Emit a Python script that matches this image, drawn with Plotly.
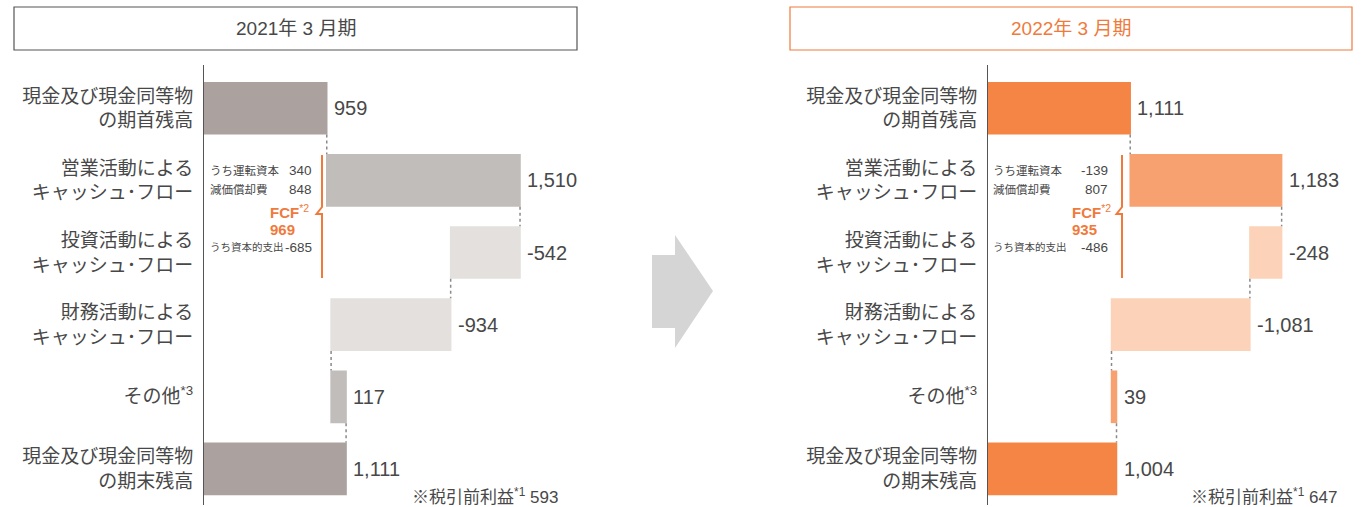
import plotly.graph_objects as go

W, H = 1362, 507

# ---- data ----
categories = [
    "現金及び現金同等物<br>の期首残高",
    "営業活動による<br>キャッシュ･フロー",
    "投資活動による<br>キャッシュ･フロー",
    "財務活動による<br>キャッシュ･フロー",
    "その他<sup>*3</sup>",
    "現金及び現金同等物<br>の期末残高",
]
measures = ["absolute", "relative", "relative", "relative", "relative", "total"]

periods = ["2021年 3 月期", "2022年 3 月期"]
flows_2021 = [959, 1510, -542, -934, 117, 1111]
flows_2022 = [1111, 1183, -248, -1081, 39, 1004]

# breakdown notes: working capital, depreciation, FCF, capex, pre-tax profit
working_capital = [340, -139]
depreciation = [848, 807]
fcf = [969, 935]
capex = [-685, -486]
pretax_profit = [593, 647]

FONT = "Liberation Sans, Noto Sans CJK JP, sans-serif"
TEXT = "#484848"
ORANGE = "#f07a3c"
PX_PER_UNIT = 0.128


def px(x):
    return x / W


def py(y):
    return 1 - y / H


def ann(x, y, text, size, color=TEXT, xanchor="left"):
    return dict(x=px(x), y=py(y), xref="paper", yref="paper", text=text, showarrow=False,
                xanchor=xanchor, yanchor="middle", font=dict(family=FONT, size=size, color=color))


panels = [
    dict(flows=flows_2021, xa="x", ya="y",
         totals="#aba29f", inc="#c1bdba", dec="#e3e0dd", box=(14, 577), box_color="#555555",
         title_color=TEXT, note_left=208, note_right=314, fcf_left=268, bracket=322, foot=560),
    dict(flows=flows_2022, xa="x2", ya="y2",
         totals="#f58545", inc="#f8a170", dec="#fcd3b8", box=(790, 1352), box_color=ORANGE,
         title_color=ORANGE, note_left=991, note_right=1110, fcf_left=1070, bracket=1122, foot=1339),
]

fig = go.Figure()
annotations = []
shapes = []

for i, p in enumerate(panels):
    fig.add_trace(go.Waterfall(
        orientation="h", y=categories, x=p["flows"], measure=measures,
        xaxis=p["xa"], yaxis=p["ya"], width=0.73, textposition="none", showlegend=False,
        totals=dict(marker=dict(color=p["totals"], line=dict(width=0))),
        increasing=dict(marker=dict(color=p["inc"], line=dict(width=0))),
        decreasing=dict(marker=dict(color=p["dec"], line=dict(width=0))),
        connector=dict(line=dict(color="#8a8a8a", width=1.5, dash="dot")),
        hoverinfo="skip",
    ))

    # value labels at the right end of each bar
    running = 0
    for cat, m, v in zip(categories, measures, p["flows"]):
        if m == "absolute" or m == "total":
            start, end = 0, v
            running = v
        else:
            start, end = running, running + v
            running = end
        annotations.append(dict(
            x=max(start, end), y=cat, xref=p["xa"], yref=p["ya"], text=f"{v:,}", showarrow=False,
            xanchor="left", yanchor="middle", xshift=5, font=dict(family=FONT, size=20, color=TEXT)))

    # header box
    x0, x1 = p["box"]
    shapes.append(dict(type="rect", xref="paper", yref="paper", x0=px(x0), x1=px(x1), y0=py(50), y1=py(7),
                       line=dict(color=p["box_color"], width=1.2), fillcolor="white"))
    annotations.append(ann((x0 + x1) / 2, 29, periods[i], 19, p["title_color"], xanchor="center"))

    # operating / investing breakdown notes
    nl, nr = p["note_left"], p["note_right"]
    annotations += [
        ann(nl, 171, "うち運転資本", 11.5),
        ann(nr, 171, f"{working_capital[i]}", 13.5, xanchor="right"),
        ann(nl, 189, "減価償却費", 11.5),
        ann(nr, 189, f"{depreciation[i]}", 13.5, xanchor="right"),
        ann(nl, 247, "うち資本的支出", 10.5),
        ann(nr, 247, f"{capex[i]}", 13.5, xanchor="right"),
        ann(p["fcf_left"], 211, "<b>FCF</b><sup>*2</sup>", 15, ORANGE),
        ann(p["fcf_left"], 229, f"<b>{fcf[i]}</b>", 15, ORANGE),
    ]

    # FCF bracket
    b = p["bracket"]
    pts = [(b, 155), (b, 207), (b - 5.5, 214), (b, 214), (b, 278)]
    path = "M " + " L ".join(f"{px(x):.5f},{py(y):.5f}" for x, y in pts)
    shapes.append(dict(type="path", xref="paper", yref="paper", path=path,
                       line=dict(color=ORANGE, width=2)))

    # pre-tax profit footnote
    annotations.append(ann(p["foot"], 496, f"※税引前利益<sup>*1</sup> {pretax_profit[i]}", 17, xanchor="right"))

# big grey arrow between the two periods
arrow = [(652, 255), (675, 255), (675, 235), (713, 291), (675, 348), (675, 328), (652, 328)]
shapes.append(dict(type="path", xref="paper", yref="paper",
                   path="M " + " L ".join(f"{px(x):.5f},{py(y):.5f}" for x, y in arrow) + " Z",
                   fillcolor="#d5d5d5", line=dict(width=0)))

yaxis_common = dict(
    domain=[py(505), py(65)], type="category", range=[5.5, -0.6],
    showline=True, linecolor="#555555", linewidth=1, ticks="", ticklabelstandoff=6,
    showgrid=False, zeroline=False, tickfont=dict(family=FONT, size=19, color=TEXT),
)

fig.update_layout(
    width=W, height=H,
    margin=dict(l=0, r=0, t=0, b=0),
    paper_bgcolor="white", plot_bgcolor="white",
    showlegend=False,
    xaxis=dict(domain=[px(204), px(600)], range=[0, (600 - 204) / PX_PER_UNIT], visible=False),
    xaxis2=dict(domain=[px(988), 1], range=[0, (W - 988) / PX_PER_UNIT], visible=False),
    yaxis=dict(anchor="x", **yaxis_common),
    yaxis2=dict(anchor="x2", **yaxis_common),
    annotations=annotations,
    shapes=shapes,
)

# drop the browser's default 8px body margin so the figure sits at the page origin
fig.write_html("out.html", config={"displayModeBar": False},
               post_script="document.body.style.margin='0';")
